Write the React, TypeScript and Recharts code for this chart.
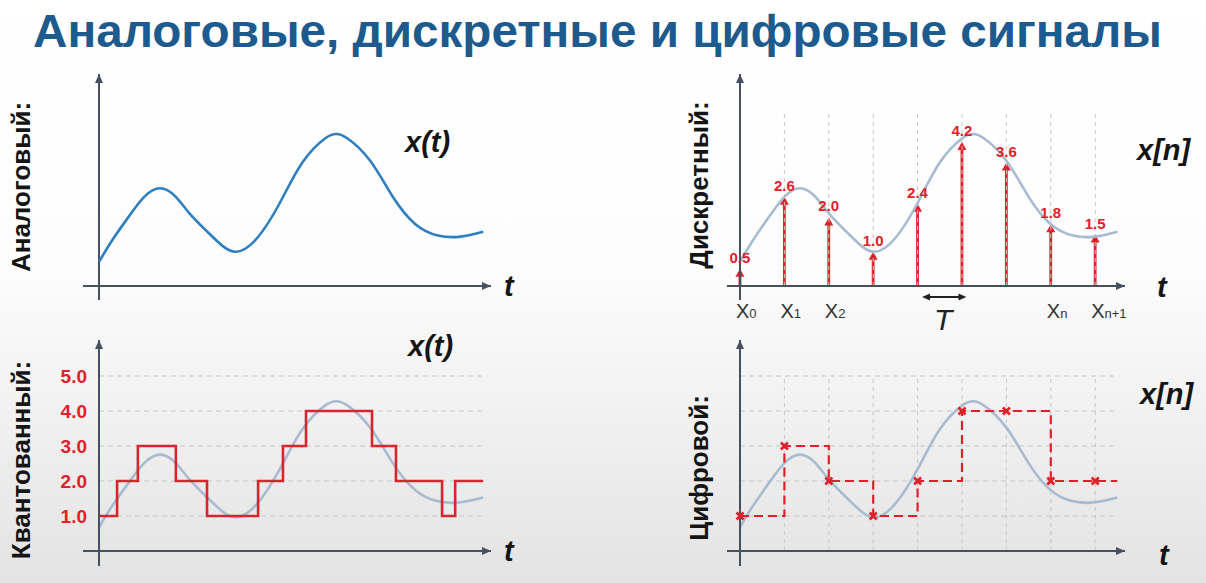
import React from "react";
import {
  ComposedChart,
  Line,
  Bar,
  XAxis,
  YAxis,
  ReferenceLine,
  LabelList,
} from "recharts";

const curveT = [0, 0.3, 0.7, 1.0, 1.35, 1.7, 2.0, 2.5, 3.0, 3.5, 4.0, 4.5, 5.0, 5.25, 5.5, 6.0, 6.5, 7.0, 7.5, 8.0, 8.5];
const curveV = [0.7, 1.35, 2.1, 2.6, 2.85, 2.6, 2.12, 1.45, 1.0, 1.4, 2.42, 3.6, 4.3, 4.43, 4.3, 3.65, 2.6, 1.8, 1.47, 1.44, 1.58];

// discrete samples x[n]
const sampleValues = [0.5, 2.6, 2.0, 1.0, 2.4, 4.2, 3.6, 1.8, 1.5];
const sampleTicks = [0, 1, 2, 7, 8];
const sampleTickSubs = ["0", "1", "2", "n", "n+1"];

// quantized signal
const quantLevels = [1, 2, 3, 4, 5];
const quantStepT = [0, 0.4, 0.86, 1.7, 2.39, 3.52, 4.07, 4.58, 6.04, 6.57, 7.59, 7.88];
const quantStepV = [1, 2, 3, 2, 1, 2, 3, 4, 3, 2, 1, 2];

// digital signal (quantized samples)
const digitalV = [1, 3, 2, 1, 2, 4, 4, 2, 2];

const T_END = curveT[curveT.length - 1];
const curveData = curveT.map((t, i) => ({ t, v: curveV[i] }));
const stemData = sampleValues.map((v, i) => ({ t: i, v }));
const quantData = [
  ...quantStepT.map((t, i) => ({ t, q: quantStepV[i] })),
  { t: T_END, q: quantStepV[quantStepV.length - 1] },
];
const digitalData = [
  ...digitalV.map((q, i) => ({ t: i, q, mark: true })),
  { t: T_END, q: digitalV[digitalV.length - 1], mark: false },
];

const AXIS = "#46505e";
const RED = "#e0212b";
const BLUE = "#2f7fc0";
const PALE = "#a8bbd0";
const GRID = "#c6c6c6";
const FONT = "'Liberation Sans', Arial, sans-serif";

type Geo = { left: number; top: number; width: number; height: number; ox: number; oy: number; pxT: number; pxV: number };

const dom = (g: Geo, pxV = g.pxV) => ({
  tMin: (g.left - g.ox) / g.pxT,
  tMax: (g.left + g.width - g.ox) / g.pxT,
  vMin: (g.oy - (g.top + g.height)) / pxV,
  vMax: (g.oy - g.top) / pxV,
});

const g1: Geo = { left: 78, top: 70, width: 418, height: 234, ox: 99, oy: 286, pxT: 45.2, pxV: 34.3 };
const g2: Geo = { left: 722, top: 70, width: 408, height: 234, ox: 740, oy: 286, pxT: 44.4, pxV: 34.3 };
const g3: Geo = { left: 78, top: 336, width: 418, height: 234, ox: 99, oy: 551, pxT: 45.2, pxV: 35 };
const g4: Geo = { left: 722, top: 336, width: 408, height: 234, ox: 740, oy: 551, pxT: 44.4, pxV: 35 };
const CURVE_PX_LOW = 33.8;

const arrowHead = (x1: number, y1: number, x2: number, y2: number, len = 9, half = 4) => {
  const a = Math.atan2(y2 - y1, x2 - x1);
  const c = Math.cos(a);
  const s = Math.sin(a);
  const bx = x2 - len * c;
  const by = y2 - len * s;
  return `${x2},${y2} ${bx - half * s},${by + half * c} ${bx + half * s},${by - half * c}`;
};

const AxisArrow = (p: any) => {
  const { x1, y1, x2, y2 } = p;
  return (
    <g>
      <line x1={x1} y1={y1} x2={x2} y2={y2} stroke={AXIS} strokeWidth={2} />
      <polygon points={arrowHead(x1, y1, x2, y2)} fill={AXIS} />
    </g>
  );
};

const PeriodArrow = (p: any) => {
  const { x1, y1, x2, y2 } = p;
  return (
    <g>
      <line x1={x1 + 4} y1={y1} x2={x2 - 4} y2={y2} stroke="#222" strokeWidth={1.8} />
      <polygon points={arrowHead(x1, y1, x2, y2, 8, 3.5)} fill="#222" />
      <polygon points={arrowHead(x2, y2, x1, y1, 8, 3.5)} fill="#222" />
      <text x={(x1 + x2) / 2 - 1} y={y1 + 33} textAnchor="middle" fontSize={30} fontStyle="italic" fontFamily={FONT} fill="#222">
        T
      </text>
    </g>
  );
};

const Stem = (p: any) => {
  const { x, y, width, height } = p;
  const cx = x + width / 2;
  return (
    <g>
      <line x1={cx} y1={y + height} x2={cx} y2={y + 7} stroke={RED} strokeWidth={2.8} />
      <polygon points={`${cx},${y} ${cx - 4.5},${y + 8} ${cx + 4.5},${y + 8}`} fill={RED} />
    </g>
  );
};

const SampleTick = (p: any) => {
  const { x, y, payload } = p;
  const sub = sampleTickSubs[sampleTicks.indexOf(payload.value)];
  return (
    <text x={x - 4} y={y + 14} fontSize={20} fontFamily={FONT} fill="#333">
      X
      <tspan fontSize={13} dy={0}>
        {sub}
      </tspan>
    </text>
  );
};

const LevelTick = (p: any) => {
  const { x, y, payload } = p;
  return (
    <text x={x + 9} y={y + 7} textAnchor="end" fontSize={19} fontWeight="bold" fontFamily={FONT} fill={RED}>
      {Number(payload.value).toFixed(1)}
    </text>
  );
};

const Cross = (p: any) => {
  const { cx, cy, payload } = p;
  if (!payload || !payload.mark) return <g />;
  const r = 3.5;
  return (
    <g stroke={RED} strokeWidth={2.6}>
      <line x1={cx - r} y1={cy - r} x2={cx + r} y2={cy + r} />
      <line x1={cx - r} y1={cy + r} x2={cx + r} y2={cy - r} />
    </g>
  );
};

const axesFor = (g: Geo, yId: string | number = 0) => {
  const xs = (g.left + 5 - g.ox) / g.pxT;
  const xe = (g.left + g.width - 5 - g.ox) / g.pxT;
  const ys = (g.oy - (g.top + g.height - 4)) / g.pxV;
  const ye = (g.oy - (g.top + 4)) / g.pxV;
  return [
    <ReferenceLine key="ax" yAxisId={yId} ifOverflow="visible" segment={[{ x: xs, y: 0 }, { x: xe, y: 0 }]} shape={AxisArrow} />,
    <ReferenceLine key="ay" yAxisId={yId} ifOverflow="visible" segment={[{ x: 0, y: ys }, { x: 0, y: ye }]} shape={AxisArrow} />,
  ];
};

function AnalogPanel() {
  const d = dom(g1);
  return (
    <div style={{ position: "absolute", left: g1.left, top: g1.top }}>
      <ComposedChart width={g1.width} height={g1.height} data={curveData} margin={{ top: 0, right: 0, bottom: 0, left: 0 }}>
        <XAxis hide type="number" dataKey="t" domain={[d.tMin, d.tMax]} allowDataOverflow />
        <YAxis hide type="number" domain={[d.vMin, d.vMax]} allowDataOverflow />
        {axesFor(g1)}
        <Line type="natural" dataKey="v" stroke={BLUE} strokeWidth={2.6} dot={false} isAnimationActive={false} />
      </ComposedChart>
    </div>
  );
}

function DiscretePanel() {
  const d = dom(g2);
  const gridTop = 5.1;
  return (
    <div style={{ position: "absolute", left: g2.left, top: g2.top }}>
      <ComposedChart width={g2.width} height={g2.height + 40} data={stemData} margin={{ top: 0, right: 0, bottom: 0, left: 0 }}>
        <XAxis
          type="number"
          dataKey="t"
          domain={[d.tMin, d.tMax]}
          allowDataOverflow
          ticks={sampleTicks}
          interval={0}
          axisLine={false}
          tickLine={false}
          tickSize={0}
          tickMargin={0}
          height={40}
          tick={<SampleTick />}
        />
        <YAxis hide type="number" domain={[d.vMin, d.vMax]} allowDataOverflow />
        {stemData.slice(1).map((s) => (
          <ReferenceLine key={s.t} ifOverflow="visible" segment={[{ x: s.t, y: 0 }, { x: s.t, y: gridTop }]} stroke={GRID} strokeWidth={1} strokeDasharray="4 4" />
        ))}
        <Line data={curveData} type="natural" dataKey="v" stroke={PALE} strokeWidth={2.6} dot={false} isAnimationActive={false} />
        <Bar dataKey="v" barSize={3} shape={<Stem />} isAnimationActive={false}>
          <LabelList dataKey="v" position="top" offset={6} formatter={(v: any) => Number(v).toFixed(1)} fill={RED} fontSize={15} fontWeight="bold" fontFamily={FONT} />
        </Bar>
        {axesFor(g2)}
        <ReferenceLine ifOverflow="visible" segment={[{ x: 4.1, y: -0.32 }, { x: 5.1, y: -0.32 }]} shape={PeriodArrow} />
      </ComposedChart>
    </div>
  );
}

function QuantPanel() {
  const d = dom(g3);
  const c = dom(g3, CURVE_PX_LOW);
  const yw = 50;
  return (
    <div style={{ position: "absolute", left: g3.left - yw, top: g3.top }}>
      <ComposedChart width={g3.width + yw} height={g3.height} margin={{ top: 0, right: 0, bottom: 0, left: 0 }}>
        <XAxis hide type="number" dataKey="t" domain={[d.tMin, d.tMax]} allowDataOverflow />
        <YAxis
          type="number"
          domain={[d.vMin, d.vMax]}
          allowDataOverflow
          ticks={quantLevels}
          interval={0}
          width={yw}
          axisLine={false}
          tickLine={false}
          tickSize={0}
          tickMargin={0}
          tick={<LevelTick />}
        />
        <YAxis yAxisId="c" hide type="number" domain={[c.vMin, c.vMax]} allowDataOverflow />
        {quantLevels.map((q) => (
          <ReferenceLine key={q} ifOverflow="visible" segment={[{ x: 0, y: q }, { x: T_END + 0.05, y: q }]} stroke={GRID} strokeWidth={1} strokeDasharray="5 4" />
        ))}
        <Line yAxisId="c" data={curveData} type="natural" dataKey="v" stroke={PALE} strokeWidth={2.6} dot={false} isAnimationActive={false} />
        <Line data={quantData} type="stepAfter" dataKey="q" stroke="#d8262f" strokeWidth={2.6} dot={false} isAnimationActive={false} />
        {axesFor(g3)}
      </ComposedChart>
    </div>
  );
}

function DigitalPanel() {
  const d = dom(g4);
  const c = dom(g4, CURVE_PX_LOW);
  const top = quantLevels[quantLevels.length - 1];
  return (
    <div style={{ position: "absolute", left: g4.left, top: g4.top }}>
      <ComposedChart width={g4.width} height={g4.height} margin={{ top: 0, right: 0, bottom: 0, left: 0 }}>
        <XAxis hide type="number" dataKey="t" domain={[d.tMin, d.tMax]} allowDataOverflow />
        <YAxis hide type="number" domain={[d.vMin, d.vMax]} allowDataOverflow />
        <YAxis yAxisId="c" hide type="number" domain={[c.vMin, c.vMax]} allowDataOverflow />
        {quantLevels.map((q) => (
          <ReferenceLine key={"h" + q} ifOverflow="visible" segment={[{ x: 0, y: q }, { x: T_END, y: q }]} stroke={GRID} strokeWidth={1} strokeDasharray="5 4" />
        ))}
        {stemData.slice(1).map((s) => (
          <ReferenceLine key={"v" + s.t} ifOverflow="visible" segment={[{ x: s.t, y: 0 }, { x: s.t, y: top }]} stroke={GRID} strokeWidth={1} strokeDasharray="4 4" />
        ))}
        <Line yAxisId="c" data={curveData} type="natural" dataKey="v" stroke={PALE} strokeWidth={2.6} dot={false} isAnimationActive={false} />
        <Line data={digitalData} type="stepAfter" dataKey="q" stroke={RED} strokeWidth={2.2} strokeDasharray="9 5" dot={<Cross />} isAnimationActive={false} />
        {axesFor(g4)}
      </ComposedChart>
    </div>
  );
}

const Italic = ({ x, y, children }: { x: number; y: number; children: React.ReactNode }) => (
  <text x={x} y={y} fontSize={29} fontWeight="bold" fontStyle="italic" fontFamily={FONT} fill="#151515">
    {children}
  </text>
);

const SideLabel = ({ x, y, children }: { x: number; y: number; children: React.ReactNode }) => (
  <text x={x} y={y} transform={`rotate(-90 ${x} ${y})`} textAnchor="middle" fontSize={26} fontWeight="bold" fontFamily={FONT} fill="#151515">
    {children}
  </text>
);

export default function App() {
  return (
    <div
      style={{
        position: "absolute",
        left: 0,
        top: 0,
        width: 1206,
        height: 583,
        overflow: "hidden",
        background: "linear-gradient(180deg, #ffffff 0%, #fdfdfd 45%, #efefef 75%, #e3e3e3 100%)",
      }}
    >
      <AnalogPanel />
      <DiscretePanel />
      <QuantPanel />
      <DigitalPanel />
      <svg width={1206} height={583} style={{ position: "absolute", left: 0, top: 0, pointerEvents: "none" }}>
        <text x={33} y={47} textLength={1129} lengthAdjust="spacingAndGlyphs" fontSize={46} fontWeight="bold" fontFamily={FONT} fill="#1d5a8d">
          Аналоговые, дискретные и цифровые сигналы
        </text>
        <SideLabel x={30} y={187}>Аналоговый:</SideLabel>
        <SideLabel x={30} y={460}>Квантованный:</SideLabel>
        <SideLabel x={708} y={185}>Дискретный:</SideLabel>
        <SideLabel x={708} y={468}>Цифровой:</SideLabel>
        <Italic x={405} y={152}>x(t)</Italic>
        <Italic x={504} y={296}>t</Italic>
        <Italic x={1137} y={160}>x[n]</Italic>
        <Italic x={1157} y={297}>t</Italic>
        <Italic x={408} y={356}>x(t)</Italic>
        <Italic x={504} y={561}>t</Italic>
        <Italic x={1140} y={404}>x[n]</Italic>
        <Italic x={1159} y={565}>t</Italic>
      </svg>
    </div>
  );
}
